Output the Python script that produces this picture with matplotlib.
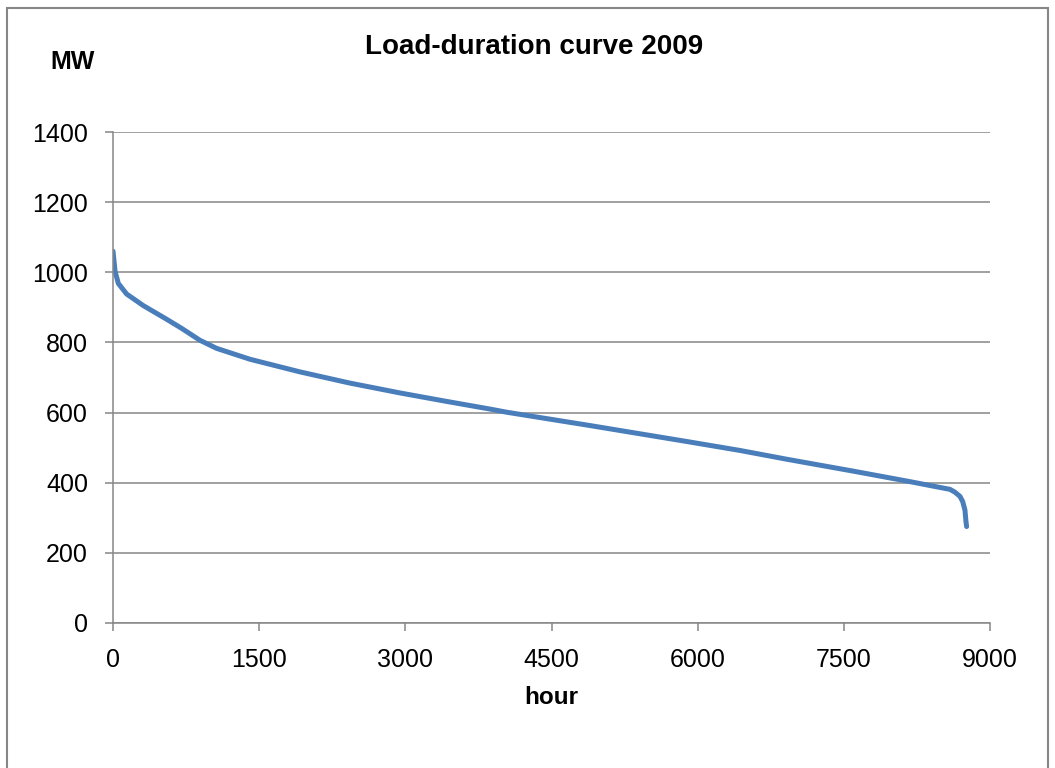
import matplotlib
matplotlib.use("Agg")
import matplotlib.pyplot as plt
from matplotlib.patches import Rectangle

# load-duration curve (hours sorted, MW)
hours = [0, 21, 55, 140, 311, 551, 705, 893, 1064, 1406, 1919, 2432, 2945, 3400,
         3869, 4040, 4895, 5921, 6434, 6913, 7597, 8180, 8590, 8640, 8692, 8720,
         8743, 8753, 8760]
load_mw = [1060, 1003, 968, 938, 905, 866, 840, 806, 783, 752, 716, 684, 656, 633,
           610, 601, 563, 516, 492, 467, 433, 403, 381, 373, 361, 346,
           322, 290, 275]

x_ticks = [0, 1500, 3000, 4500, 6000, 7500, 9000]
y_ticks = [0, 200, 400, 600, 800, 1000, 1200, 1400]

grey = "#868686"
blue = "#4a7ebb"
plt.rcParams['font.family'] = ['Liberation Sans', 'DejaVu Sans']

fig = plt.figure(figsize=(10.55, 7.68), dpi=100)
# outer chart frame
fig.patches.append(Rectangle((7/1055, -0.05), 1041/1055, 1.05 - 8/768, transform=fig.transFigure,
                             fill=False, edgecolor=grey, lw=1.5))

ax = fig.add_axes([113/1055, 1-623/768, 877/1055, 491/768])
ax.plot(hours, load_mw, color=blue, lw=3.6, solid_capstyle='round', solid_joinstyle='round')

ax.set_xlim(0, 9000)
ax.set_ylim(0, 1400)
ax.set_xticks(x_ticks)
ax.set_yticks(y_ticks)
ax.grid(axis='y', color=grey, lw=1.1)
ax.set_axisbelow(True)
for s in ['top', 'right']:
    ax.spines[s].set_visible(False)
for s in ['left', 'bottom']:
    ax.spines[s].set_color(grey)
    ax.spines[s].set_linewidth(1.1)
ax.tick_params(axis='both', colors=grey, labelcolor='black', labelsize=18, length=6, width=1.1)
ax.tick_params(axis='x', pad=12)
ax.tick_params(axis='y', pad=12)

fig.text(534/1055, 1-47/768, "Load-duration curve 2009", ha='center', va='center',
         fontsize=20, fontweight='bold')
fig.text(73/1055, 1-62/768, "MW", ha='center', va='center', fontsize=18, fontweight='bold')
fig.text(551/1055, 1-697/768, "hour", ha='center', va='center', fontsize=17.5, fontweight='bold')

fig.savefig("out.png", dpi=100)
